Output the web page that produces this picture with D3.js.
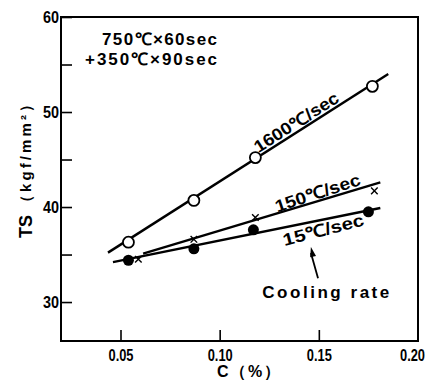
<!DOCTYPE html>
<html>
<head>
<meta charset="utf-8">
<script src="https://cdn.jsdelivr.net/npm/d3@7"></script>
<style>
  html, body { margin: 0; padding: 0; background: #fff; }
  svg { display: block; }
  text { font-family: "Liberation Sans", Arial, sans-serif; font-weight: bold; fill: #000; }
</style>
</head>
<body>
<svg id="chart" width="433" height="380"></svg>
<script>
// ---------- data ----------
const xTicks = [0.05, 0.10, 0.15, 0.20];
const yTicks = [30, 35, 40, 45, 50, 55, 60];
const yLabeled = [30, 40, 50, 60];

const carbon1600 = [0.054, 0.087, 0.118, 0.177];
const ts1600     = [36.3, 40.7, 45.2, 52.7];
const carbon150  = [0.059, 0.087, 0.118, 0.178];
const ts150      = [34.5, 36.6, 38.9, 41.7];
const carbon15   = [0.054, 0.087, 0.117, 0.175];
const ts15       = [34.4, 35.6, 37.6, 39.5];

// fitted straight lines (end points, in data units)
const fitC1600 = [0.0437, 0.185];
const fitT1600 = [35.2, 54.0];
const fitC150  = [0.0614, 0.181];
const fitT150  = [35.1, 42.6];
const fitC15   = [0.0462, 0.181];
const fitT15   = [34.2, 39.9];

const seriesNames = ["1600℃/sec", "150℃/sec", "15℃/sec"];
const headerLines = ["750℃×60sec", "+350℃×90sec"];

// ---------- layout ----------
const svg = d3.select("#chart");
const L = 61, R = 418, T = 17, B = 341;
const x = d3.scaleLinear().domain([0.02, 0.20]).range([L, R]);
const y = d3.scaleLinear().domain([25.9, 60]).range([B, T]);

// frame
svg.append("rect")
  .attr("x", L).attr("y", T).attr("width", R - L).attr("height", B - T)
  .attr("fill", "none").attr("stroke", "#000").attr("stroke-width", 2);

// axes
const yAxis = d3.axisLeft(y).tickValues(yTicks).tickSize(-11).tickPadding(2)
  .tickFormat(d => yLabeled.includes(d) ? d3.format("d")(d) : "");
const gy = svg.append("g").attr("transform", `translate(${L},0)`).call(yAxis);
const xAxis = d3.axisBottom(x).tickValues(xTicks).tickSize(-11).tickPadding(9)
  .tickFormat(d3.format(".2f"));
const gx = svg.append("g").attr("transform", `translate(0,${B})`).call(xAxis);
[gx, gy].forEach(g => {
  g.select(".domain").remove();
  g.selectAll(".tick line").attr("stroke", "#000").attr("stroke-width", 1.6);
  g.selectAll(".tick text")
    .style("font-family", '"Liberation Sans Narrow", "Liberation Sans", Arial, sans-serif')
    .style("font-weight", "bold").style("font-size", "16px").attr("fill", "#000")
    .attr("textLength", d => (d < 1 ? 25 : 16)).attr("lengthAdjust", "spacingAndGlyphs");
});
gx.selectAll(".tick").filter(d => d === 0.20).select("line").remove();
gx.selectAll(".tick").filter(d => d === 0.20).select("text").attr("dx", -6);

// axis titles
svg.append("text").attr("transform", `translate(32,238) rotate(-90)`)
  .attr("font-size", 19).attr("textLength", 23).attr("lengthAdjust", "spacingAndGlyphs")
  .text("TS");
svg.append("text").attr("transform", `translate(31,210) rotate(-90)`)
  .attr("font-size", 15).attr("textLength", 113).attr("lengthAdjust", "spacing")
  .text("（kgf/mm²）");
svg.append("text").attr("x", 217).attr("y", 377)
  .attr("font-size", 16).attr("textLength", 63).attr("lengthAdjust", "spacing")
  .text("C（%）");

// header
headerLines.forEach((t, i) => {
  svg.append("text").attr("x", 217).attr("y", 45 + i * 20)
    .attr("text-anchor", "end").attr("font-size", 17)
    .attr("textLength", i === 0 ? 115 : 132).attr("lengthAdjust", "spacing")
    .text(t);
});

// fit lines
const line = d3.line().x(d => x(d[0])).y(d => y(d[1]));
const fits = [
  d3.zip(fitC1600, fitT1600),
  d3.zip(fitC150, fitT150),
  d3.zip(fitC15, fitT15)
];
fits.forEach(f => {
  svg.append("path").attr("d", line(f)).attr("fill", "none")
    .attr("stroke", "#000").attr("stroke-width", 2.4);
});

// markers
svg.append("g").selectAll("circle").data(d3.zip(carbon1600, ts1600)).join("circle")
  .attr("cx", d => x(d[0])).attr("cy", d => y(d[1])).attr("r", 5.5)
  .attr("fill", "#fff").attr("stroke", "#000").attr("stroke-width", 1.8);
svg.append("g").selectAll("circle").data(d3.zip(carbon15, ts15)).join("circle")
  .attr("cx", d => x(d[0])).attr("cy", d => y(d[1])).attr("r", 5.5)
  .attr("fill", "#000");
const cross = d3.symbol().type(d3.symbolTimes).size(30);
svg.append("g").selectAll("path").data(d3.zip(carbon150, ts150)).join("path")
  .attr("d", cross)
  .attr("transform", d => `translate(${x(d[0])},${y(d[1])})`)
  .attr("fill", "none").attr("stroke", "#000").attr("stroke-width", 1.4);

// in-line labels
function along(f, cx) {
  const [p0, p1] = f;
  const t = (cx - p0[0]) / (p1[0] - p0[0]);
  return p0[1] + t * (p1[1] - p0[1]);
}
function angle(f) {
  const [p0, p1] = f;
  return Math.atan2(y(p1[1]) - y(p0[1]), x(p1[0]) - x(p0[0])) * 180 / Math.PI;
}
const labelSpec = [
  { cx: 0.141, dy: -3, len: 97, extra: 0 },
  { cx: 0.1506, dy: -2, len: 89, extra: -1.5 },
  { cx: 0.151, dy: 16, len: 83, extra: -3 }
];
labelSpec.forEach((s, i) => {
  const f = fits[i];
  svg.append("text")
    .attr("transform", `translate(${x(s.cx)},${y(along(f, s.cx))}) rotate(${angle(f) + s.extra})`)
    .attr("y", s.dy).attr("text-anchor", "middle").attr("font-size", 17)
    .attr("textLength", s.len).attr("lengthAdjust", "spacingAndGlyphs")
    .text(seriesNames[i]);
});

// "Cooling rate" annotation with arrow
svg.append("text").attr("x", x(0.1535)).attr("y", y(30.45))
  .attr("text-anchor", "middle").attr("font-size", 17)
  .attr("textLength", 127).attr("lengthAdjust", "spacing")
  .text("Cooling rate");
const a0 = [x(0.1496), y(32.5)], a1 = [x(0.146), y(35.8)];
svg.append("line").attr("x1", a0[0]).attr("y1", a0[1]).attr("x2", a1[0]).attr("y2", a1[1] + 6)
  .attr("stroke", "#000").attr("stroke-width", 1.8);
const ang = Math.atan2(a1[1] - a0[1], a1[0] - a0[0]);
const hl = 10, hw = 3;
const bx = a1[0] - hl * Math.cos(ang), by = a1[1] - hl * Math.sin(ang);
const px = -Math.sin(ang), py = Math.cos(ang);
svg.append("path")
  .attr("d", `M${a1[0]},${a1[1]}L${bx + hw * px},${by + hw * py}L${bx - hw * px},${by - hw * py}Z`)
  .attr("fill", "#000");
</script>
</body>
</html>
